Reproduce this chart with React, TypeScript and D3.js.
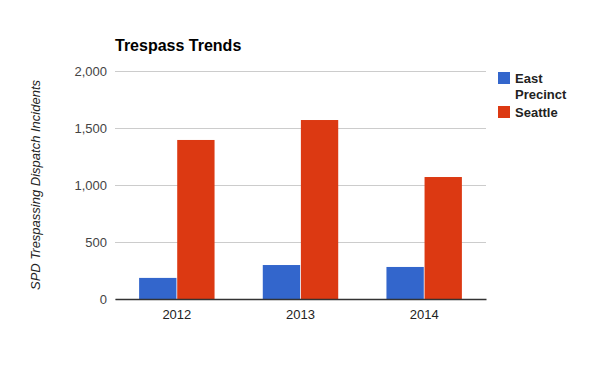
import * as d3 from 'd3';
import { useEffect, useRef } from 'react';

const years = ['2012', '2013', '2014'];
const seriesNames = ['East Precinct', 'Seattle'];
const eastPrecinct = [185, 298, 281];
const seattle = [1395, 1570, 1070];
const yTicks = [0, 500, 1000, 1500, 2000];
const colors = ['#3366cc', '#dc3912'];

export default function App() {
  const svgRef = useRef<SVGSVGElement | null>(null);

  useEffect(() => {
    d3.select(svgRef.current).selectAll('*').remove();

    const width = 600;
    const height = 371;
    const marginTop = 71;
    const marginLeft = 115;
    const marginRight = 114;
    const marginBottom = 72;

    const svg = d3.select(svgRef.current)
      .attr('viewBox', [0, 0, width, height])
      .attr('width', width)
      .attr('height', height)
      .style('font-family', 'Arial, "Liberation Sans", sans-serif');

    svg.append('rect').attr('width', width).attr('height', height).attr('fill', '#fff');

    const x0 = d3.scaleBand(years, [marginLeft, width - marginRight])
      .paddingInner(0.39)
      .paddingOuter(0.195);
    const x1 = d3.scaleBand(seriesNames, [0, x0.bandwidth()]).paddingInner(0.02);
    const y = d3.scaleLinear([0, 2000], [height - marginBottom, marginTop]);

    // grid + y labels
    svg.append('g')
      .attr('transform', `translate(${marginLeft},0)`)
      .call(d3.axisLeft(y).tickValues(yTicks).tickFormat(d3.format(',')).tickSize(-(width - marginLeft - marginRight)).tickPadding(8))
      .call(g => g.select('.domain').remove())
      .call(g => g.selectAll('.tick line').attr('stroke', '#cccccc'))
      .call(g => g.selectAll('.tick text').attr('fill', '#444').style('font-size', '13px'));

    const rows = years.map((yr, i) => ({ year: yr, values: [eastPrecinct[i], seattle[i]] }));

    svg.append('g')
      .selectAll('g')
      .data(rows)
      .join('g')
      .attr('transform', d => `translate(${x0(d.year)},0)`)
      .selectAll('rect')
      .data(d => d.values.map((v, i) => ({ key: seriesNames[i], v, i })))
      .join('rect')
      .attr('x', d => x1(d.key)!)
      .attr('width', x1.bandwidth())
      .attr('y', d => y(d.v))
      .attr('height', d => y(0) - y(d.v))
      .attr('fill', d => colors[d.i]);

    // x axis
    svg.append('g')
      .attr('transform', `translate(0,${height - marginBottom})`)
      .call(d3.axisBottom(x0).tickSize(0).tickPadding(11))
      .call(g => g.select('.domain').attr('stroke', '#333').attr('stroke-width', 1.3))
      .call(g => g.selectAll('.tick text').attr('fill', '#222').style('font-size', '13px'));

    // title
    svg.append('text')
      .attr('x', marginLeft)
      .attr('y', 51)
      .attr('font-size', 16)
      .attr('font-weight', 'bold')
      .attr('fill', '#000')
      .text('Trespass Trends');

    // y axis title
    svg.append('text')
      .attr('transform', `translate(40,${(marginTop + height - marginBottom) / 2}) rotate(-90)`)
      .attr('text-anchor', 'middle')
      .attr('font-size', 13)
      .attr('font-style', 'italic')
      .attr('fill', '#222')
      .text('SPD Trespassing Dispatch Incidents');

    // legend
    const legend = svg.append('g').attr('transform', 'translate(498,72)');
    const legendLines = [['East', 'Precinct'], ['Seattle']];
    let ly = 0;
    legendLines.forEach((lines, i) => {
      legend.append('rect')
        .attr('x', 0)
        .attr('y', ly)
        .attr('width', 12)
        .attr('height', 12)
        .attr('fill', colors[i]);
      lines.forEach((t, j) => {
        legend.append('text')
          .attr('x', 17)
          .attr('y', ly + 11 + j * 16)
          .attr('font-size', 13)
          .attr('font-weight', 'bold')
          .attr('fill', '#222')
          .text(t);
      });
      ly += lines.length * 16 + 2;
    });
  }, []);

  return <svg ref={svgRef} style={{ display: 'block', position: 'absolute', left: 0, top: 0 }} />;
}
